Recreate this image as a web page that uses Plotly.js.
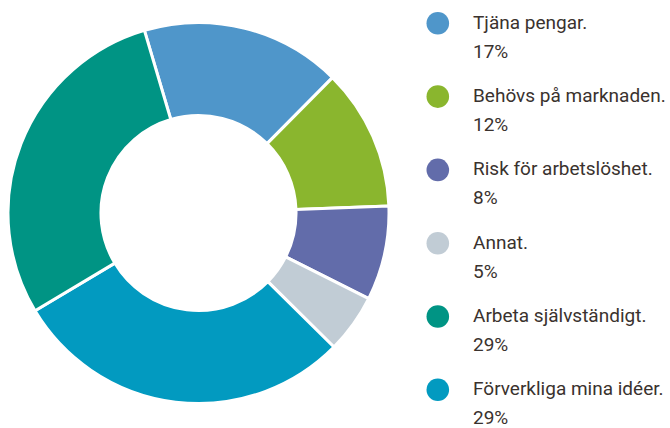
<!DOCTYPE html>
<html><head><meta charset="utf-8">
<script src="https://cdn.plot.ly/plotly-3.0.1.min.js"></script>
<style>html,body{margin:0;padding:0;background:#fff}#c{width:670px;height:428px}</style>
</head><body><div id="c"></div>
<script>
// Data (pie order clockwise from top)
const labels = ["Tjäna pengar.", "Behövs på marknaden.", "Risk för arbetslöshet.", "Annat.", "Förverkliga mina idéer.", "Arbeta självständigt."];
const values = [17, 12, 8, 5, 29, 29];
const colors = ["#4F96CA", "#8AB62E", "#626CAA", "#C1CCD5", "#029AC0", "#009484"];
// Legend order
const legendOrder = [0, 1, 2, 3, 5, 4];

const W = 670, H = 428;
const cx = 198.5, cy = 213, R = 190.5;
const px = x => x / W, py = y => 1 - y / H;

const shapes = [], annotations = [];
const font = {family: "Roboto, sans-serif", size: 19, color: "#3A322E"};
legendOrder.forEach((idx, i) => {
  const yc = 23.3 + 73.3 * i;
  shapes.push({type: "circle", xref: "paper", yref: "paper", xsizemode: "pixel", ysizemode: "pixel",
    xanchor: px(437.8), yanchor: py(yc), x0: -11.3, x1: 11.3, y0: -11.3, y1: 11.3,
    fillcolor: colors[idx], line: {width: 0}});
  annotations.push({xref: "paper", yref: "paper", x: px(471), y: py(yc - 1), xanchor: "left", yanchor: "middle",
    text: labels[idx], showarrow: false, font: font});
  annotations.push({xref: "paper", yref: "paper", x: px(471), y: py(yc + 28), xanchor: "left", yanchor: "middle",
    text: values[idx] + "%", showarrow: false, font: font});
});

const data = [{
  type: "pie", labels: labels, values: values, sort: false, direction: "clockwise", rotation: -16.5,
  hole: 0.512, textinfo: "none", hoverinfo: "label+percent",
  marker: {colors: colors, line: {color: "#ffffff", width: 3}},
  domain: {x: [px(cx - R), px(cx + R)], y: [py(cy + R), py(cy - R)]},
  showlegend: false
}];
const layout = {width: W, height: H, margin: {l: 0, r: 0, t: 0, b: 0}, paper_bgcolor: "#fff",
  showlegend: false, shapes: shapes, annotations: annotations};
Plotly.newPlot("c", data, layout, {displayModeBar: false, staticPlot: true});
</script></body></html>
